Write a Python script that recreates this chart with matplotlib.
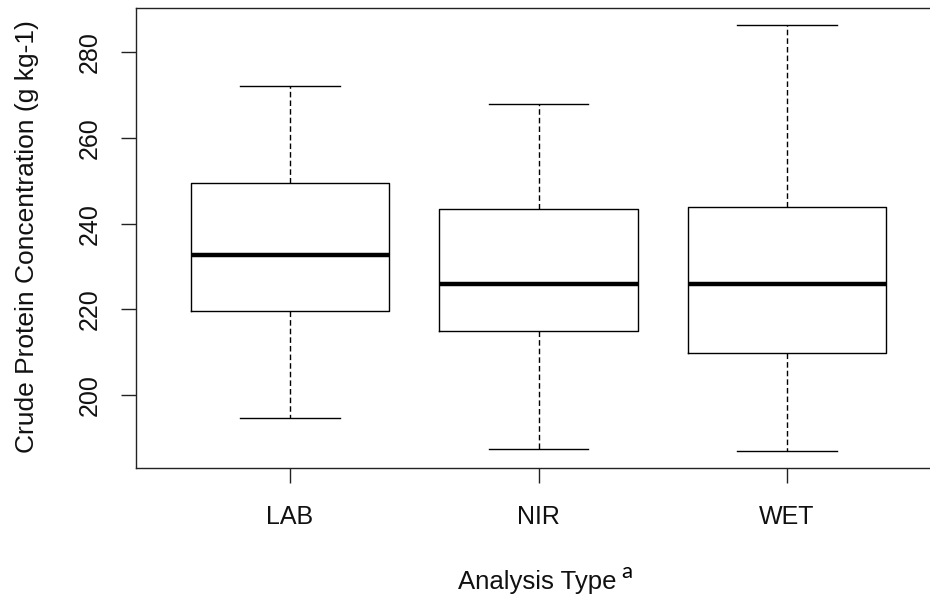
import matplotlib
matplotlib.use("Agg")
import matplotlib.pyplot as plt

# five-number summaries
groups = ["LAB", "NIR", "WET"]
whisker_low = [194.6, 187.3, 186.9]
quartile_1 = [219.7, 214.9, 209.7]
medians = [232.6, 225.9, 225.9]
quartile_3 = [249.4, 243.5, 243.9]
whisker_high = [272.1, 267.9, 286.4]
y_ticks = [200, 220, 240, 260, 280]

plt.rcParams['font.family'] = ['Liberation Sans', 'DejaVu Sans']

fig = plt.figure(figsize=(9.30, 6.03), dpi=100)
# R-style plot region; the right edge runs past the figure like in the original
ax = fig.add_axes([136 / 930, 135 / 603, 805 / 930, 460 / 603])

stats = []
for i, name in enumerate(groups):
    stats.append({
        'label': name,
        'whislo': whisker_low[i],
        'q1': quartile_1[i],
        'med': medians[i],
        'q3': quartile_3[i],
        'whishi': whisker_high[i],
        'fliers': [],
    })

ax.bxp(stats, positions=[1, 2, 3], widths=0.8, capwidths=0.4,
       showfliers=False,
       boxprops=dict(color='black', linewidth=1.0),
       medianprops=dict(color='black', linewidth=3.2, solid_capstyle='butt'),
       whiskerprops=dict(color='black', linewidth=1.0, linestyle=(0, (4, 2.2))),
       capprops=dict(color='black', linewidth=1.0))

# R pads the data range by 4% on each side
lo, hi = min(whisker_low), max(whisker_high)
pad = (hi - lo) * 0.04
ax.set_ylim(lo - pad, hi + pad)
ax.set_xlim(0.5 - 0.12, 3.5 + 0.12)

ax.set_yticks(y_ticks)
ax.set_yticklabels([str(t) for t in y_ticks], rotation=90, va='center')
ax.set_xticks([1, 2, 3])
ax.set_xticklabels(groups)

for sp in ax.spines.values():
    sp.set_color('#222222')
    sp.set_linewidth(1.0)
ax.tick_params(axis='both', direction='out', length=10.8, width=1.0,
               color='#222222', labelsize=18, labelcolor='#111111')
ax.tick_params(axis='y', pad=14)
ax.tick_params(axis='x', pad=16)

fig.text(27 / 930, 1 - 237 / 603, "Crude Protein Concentration (g kg-1)",
         rotation=90, ha='center', va='center', fontsize=19, color='#111111')
fig.text(537.5 / 930, 1 - 582 / 603, "Analysis Type",
         ha='center', va='center', fontsize=18.5, color='#111111')
fig.text(621 / 930, 1 - 572 / 603, "a", family=['Lato', 'DejaVu Sans'],
         ha='left', va='center', fontsize=16, color='black')

fig.savefig("out.png", dpi=100)
